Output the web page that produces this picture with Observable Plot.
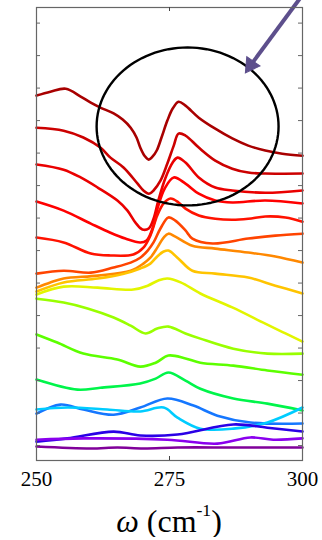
<!DOCTYPE html>
<html>
<head>
<meta charset="utf-8">
<script src="https://cdn.jsdelivr.net/npm/d3@7"></script>
<script src="https://cdn.jsdelivr.net/npm/@observablehq/plot@0.6"></script>
<style>
  html, body { margin: 0; padding: 0; background: #fff; }
  #chart { width: 322px; }
  #xlabel {
    width: 322px; box-sizing: border-box; padding-left: 36px; padding-right: 20px;
    text-align: center; font-family: "Liberation Serif", "Times New Roman", serif;
    font-size: 32px; line-height: 1; margin-top: 10px; color: #000;
  }
  #xlabel sup { font-size: 0.55em; position: relative; top: -0.15em; vertical-align: top; }
</style>
</head>
<body>
<div id="chart"></div>
<div id="xlabel"><i>ω</i> (cm<sup>-1</sup>)</div>
<script>
// Raman frequency ticks and offset intensity ticks
const xTicks = [250, 275, 300];
const yTicks = [0, 1, 2, 3, 4, 5, 6, 7, 8, 9, 10, 11, 12, 13];

// spectra, top (dark red) to bottom (purple): [omega, offset intensity]
const spec1 = [[250,10.77],[252.6,10.89],[255.5,10.98],[258.3,10.74],[260.2,10.55],[262.0,10.40],[264.5,10.22],[266.2,10.03],[267.7,9.78],[268.8,9.48],[269.5,9.17],[270.3,8.92],[271.1,8.80],[271.8,8.89],[272.6,9.08],[273.5,9.48],[274.6,10.00],[275.6,10.37],[276.7,10.58],[278.0,10.46],[280.5,10.09],[283.6,9.75],[286.8,9.45],[289.8,9.23],[293.0,9.08],[296.2,8.98],[300,8.92]];
const spec2 = [[250,9.78],[255.1,9.69],[258.8,9.48],[262.0,9.17],[263.9,8.86],[266.4,8.55],[269.0,8.06],[270.1,7.85],[271.1,7.75],[272.0,7.85],[273.3,8.15],[274.6,8.68],[275.8,9.23],[276.7,9.60],[278.0,9.54],[280.5,9.17],[283.6,8.77],[286.8,8.52],[289.8,8.40],[293.0,8.37],[300,8.37]];
const spec3 = [[250,8.65],[255.1,8.49],[258.3,8.25],[261.5,7.94],[265.2,7.54],[267.1,7.23],[268.6,6.86],[269.9,6.65],[271.1,6.68],[272.0,6.98],[272.9,7.54],[274.2,8.22],[275.6,8.71],[276.5,8.86],[278.0,8.71],[280.5,8.25],[283.6,7.94],[286.8,7.85],[293.0,7.78],[300,7.85]];
const spec4 = [[250,7.51],[255.1,7.23],[260.2,6.83],[263.9,6.55],[266.7,6.37],[269.5,6.25],[270.7,6.31],[271.8,6.68],[272.9,7.38],[274.1,7.91],[275.8,8.25],[278.0,8.06],[280.5,7.75],[283.6,7.54],[286.8,7.48],[293.0,7.54],[300,7.45]];
const spec5 = [[250,6.40],[255.1,6.25],[260.2,5.91],[263.9,5.85],[268.2,5.88],[270.1,6.09],[271.4,6.46],[272.7,7.08],[273.9,7.45],[275.2,7.60],[276.7,7.48],[278.0,7.29],[280.5,7.08],[283.6,6.98],[286.8,6.95],[289.8,6.98],[293.0,7.05],[296.8,7.02],[300,6.89]];
const spec6 = [[250,5.29],[255.1,5.38],[260.2,5.32],[264.5,5.48],[267.7,5.63],[269.5,5.78],[270.9,6.00],[272.0,6.25],[273.3,6.68],[274.8,7.02],[276.1,6.92],[278.0,6.62],[279.3,6.37],[283.1,6.22],[289.8,6.37],[294.9,6.46],[300,6.52]];
const spec7 = [[250,4.86],[252.6,5.02],[255.1,5.14],[261.5,5.23],[267.7,5.38],[270.1,5.60],[271.4,5.78],[272.7,6.09],[273.9,6.40],[274.8,6.52],[276.1,6.43],[279.3,6.15],[283.6,6.06],[289.8,5.94],[294.9,5.82],[300,5.63]];
const spec8 = [[250,4.74],[255.1,5.02],[261.5,5.14],[266.4,5.29],[269.5,5.45],[271.4,5.60],[272.7,5.82],[273.9,5.97],[274.8,6.00],[276.7,5.75],[279.3,5.38],[283.6,5.29],[289.8,5.17],[294.9,4.92],[300,4.68]];
const spec9 = [[250,4.65],[255.1,4.89],[261.5,4.86],[268.2,4.80],[270.9,4.92],[272.9,5.08],[274.6,5.14],[277.1,5.02],[280.8,4.68],[286.8,4.25],[293.0,3.75],[296.8,3.45],[300,3.20]];
const spec10 = [[250,4.52],[255.1,4.40],[259.6,4.22],[264.5,3.94],[267.7,3.69],[270.5,3.45],[272.7,3.60],[274.8,3.66],[278.0,3.45],[280.8,3.29],[287.0,2.98],[293.4,2.83],[300,2.83]];
const spec11 = [[250,3.42],[253.9,3.17],[258.8,2.83],[265.2,2.65],[269.5,2.43],[272.4,2.55],[274.8,2.77],[278.0,2.68],[280.8,2.55],[287.0,2.46],[293.4,2.31],[300,2.18]];
const spec12 = [[250,2.03],[257.7,1.72],[262.0,1.78],[269.5,1.91],[272.4,2.06],[274.8,2.25],[278.0,2.00],[280.8,1.75],[287.0,1.45],[293.4,1.29],[300,1.08]];
const spec13 = [[250,0.98],[254.5,1.26],[258.8,1.11],[264.5,0.95],[269.5,1.17],[274.6,1.45],[279.5,1.23],[284.0,0.92],[290.2,0.71],[300,0.68]];
const spec14 = [[250,1.11],[255.8,1.17],[263.3,1.11],[269.5,1.05],[273.9,1.17],[276.5,0.86],[280.8,0.52],[287.0,0.52],[293.4,0.71],[300,1.17]];
const spec15 = [[250,0.12],[255.8,0.22],[264.5,0.43],[269.5,0.31],[276.5,0.34],[287.0,0.65],[293.4,0.55],[300,0.43]];
const spec16 = [[250,0.18],[258.8,0.22],[274.6,0.18],[284.0,0.06],[290.2,0.25],[294.5,0.18],[300,0.22]];
const spec17 = [[250,-0.03],[260.2,-0.09],[265.2,-0.06],[270.1,-0.09],[276.5,-0.06],[287.0,-0.06],[300,-0.06]];

const spectra = [spec1, spec2, spec3, spec4, spec5, spec6, spec7, spec8, spec9, spec10, spec11, spec12, spec13, spec14, spec15, spec16, spec17];
const colors = ["#a80000", "#cc0000", "#ea0000", "#ff0000", "#ff1200", "#ff4400", "#ff8800", "#ffc400", "#e2f500", "#99ff00", "#5cff00", "#00f54a", "#1577ff", "#00ccff", "#2a00e6", "#8a00ee", "#80009a"];

// annotation: ellipse (center, radii in data units) and arrow (tail, tip)
const ellipseCenter = [278.4, 9.82];
const ellipseRadii = [17.1, 2.43];
const arrowFrom = [299.7, 13.8];
const arrowTo = [289.3, 11.49];

const rows = spectra.flatMap((s, i) => s.map(([w, v]) => ({w, v, k: i})));
const ellipse = d3.range(0, 361, 3).map(a => ({
  w: ellipseCenter[0] + ellipseRadii[0] * Math.cos(a * Math.PI / 180),
  v: ellipseCenter[1] + ellipseRadii[1] * Math.sin(a * Math.PI / 180)
}));
// arrowhead sits just behind the tip
const headAt = [arrowTo[0] + 0.093 * (arrowFrom[0] - arrowTo[0]), arrowTo[1] + 0.093 * (arrowFrom[1] - arrowTo[1])];

const xDomain = [250, 300];
const yDomain = [-0.46, 13.48];
const tickLenY = (yDomain[1] - yDomain[0]) * 4 / 453;

const plot = Plot.plot({
  width: 322,
  height: 495,
  marginLeft: 36,
  marginRight: 20,
  marginTop: 7,
  marginBottom: 35,
  style: {fontFamily: "'Liberation Serif', 'Times New Roman', serif", fontSize: "21px", background: "#fff", overflow: "visible"},
  x: {domain: xDomain, axis: null},
  y: {domain: yDomain, axis: null},
  color: {type: "ordinal", domain: d3.range(spectra.length), range: colors},
  marks: [
    Plot.line(rows, {x: "w", y: "v", z: "k", stroke: "k", strokeWidth: 2.6, curve: "catmull-rom"}),
    Plot.line(ellipse, {x: "w", y: "v", stroke: "#000", strokeWidth: 2.4, curve: "linear-closed"}),
    Plot.link([{a: arrowFrom, b: headAt}], {x1: d => d.a[0], y1: d => d.a[1], x2: d => d.b[0], y2: d => d.b[1], stroke: "#5d4f8c", strokeWidth: 4}),
    Plot.dot([headAt], {x: d => d[0], y: d => d[1], symbol: "triangle", r: 6, rotate: 215, fill: "#5d4f8c", stroke: "#5d4f8c", strokeWidth: 1}),
    Plot.frame({stroke: "#666", strokeWidth: 1.2}),
    Plot.ruleY(yTicks, {x1: xDomain[0], x2: xDomain[1], insetRight: 262, stroke: "#666"}),
    Plot.ruleY(yTicks, {x1: xDomain[0], x2: xDomain[1], insetLeft: 262, stroke: "#666"}),
    Plot.ruleX([275], {y1: yDomain[0], y2: yDomain[0] + tickLenY, stroke: "#444"}),
    Plot.ruleX([275], {y1: yDomain[1] - tickLenY, y2: yDomain[1], stroke: "#444"}),
    Plot.axisX(xTicks, {anchor: "bottom", tickSize: 0, tickPadding: 11, fontSize: 21, fill: "#000", label: null})
  ]
});
document.getElementById("chart").appendChild(plot);
</script>
</body>
</html>
